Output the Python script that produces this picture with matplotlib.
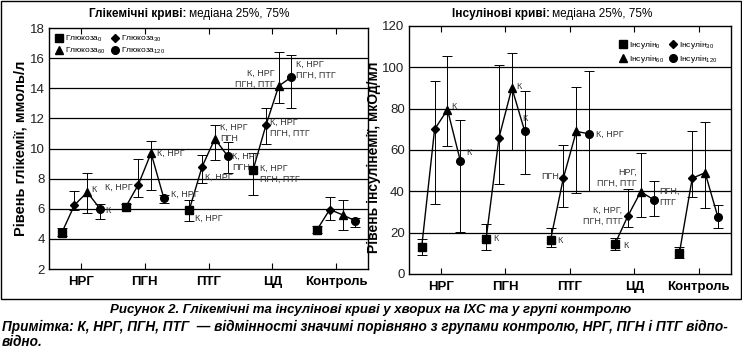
import numpy as np
import matplotlib.pyplot as plt
from matplotlib.lines import Line2D
from matplotlib.patches import Rectangle

plt.rcParams['font.family'] = ['Liberation Sans', 'DejaVu Sans']
plt.rcParams['mathtext.fontset'] = 'custom'
plt.rcParams['mathtext.rm'] = 'Liberation Sans'

groups = ["НРГ", "ПГН", "ПТГ", "ЦД", "Контроль"]
offsets = [0.2, 0.4, 0.6, 0.8]
markers = ["s", "D", "^", "o"]
msizes = [5.5, 4.5, 5.5, 5.5]

# glucose: rows = groups, cols = 0, 30, 60, 120 min
glu_med = [[4.4, 6.25, 7.1, 6.0],
           [6.1, 7.6, 9.7, 6.7],
           [5.95, 8.8, 10.65, 9.5],
           [8.6, 11.55, 14.15, 14.75],
           [4.6, 5.95, 5.6, 5.2]]
glu_lo = [[4.2, 5.9, 5.7, 5.3],
          [6.0, 6.75, 7.25, 6.4],
          [5.2, 7.7, 9.25, 8.35],
          [6.9, 10.3, 13.05, 12.7],
          [4.4, 5.25, 4.6, 4.8]]
glu_hi = [[4.7, 7.15, 8.35, 6.35],
          [6.3, 9.3, 10.5, 6.9],
          [6.55, 9.6, 11.55, 10.45],
          [9.7, 12.7, 16.4, 16.2],
          [4.85, 6.75, 6.55, 5.4]]

# insulin
ins_med = [[13.2, 70.0, 79.5, 54.7],
           [17.1, 66.0, 90.0, 69.0],
           [16.4, 46.5, 69.0, 67.8],
           [14.5, 28.0, 39.8, 36.0],
           [10.0, 46.3, 49.0, 27.4]]
ins_lo = [[9.0, 34.0, 62.0, 20.5],
          [11.6, 43.4, 60.0, 48.4],
          [12.9, 32.3, 39.4, 40.2],
          [11.6, 22.9, 27.4, 28.1],
          [7.9, 37.1, 31.8, 22.1]]
ins_hi = [[16.8, 93.5, 105.7, 74.4],
          [24.2, 101.0, 107.0, 88.5],
          [22.4, 62.4, 90.3, 98.0],
          [17.3, 41.0, 58.7, 45.1],
          [13.2, 69.0, 73.7, 33.4]]

glu_names = ["Глюкоза$_0$", "Глюкоза$_{30}$", "Глюкоза$_{60}$", "Глюкоза$_{120}$"]
ins_names = ["Інсулін$_0$", "Інсулін$_{30}$", "Інсулін$_{60}$", "Інсулін$_{120}$"]

# (group, point, text, dx, dy, ha, va)
glu_notes = [(0, 2, "К", 3, 2, "left", "center"),
             (0, 3, "К", 4, -1, "left", "center"),
             (1, 1, "К, НРГ", -4, -2, "right", "center"),
             (1, 2, "К, НРГ", 4, 0, "left", "center"),
             (1, 3, "К, НРГ", 5, 3, "left", "center"),
             (2, 0, "К, НРГ", 4, -6, "left", "center"),
             (2, 1, "К, НРГ", 2, -8, "left", "center"),
             (2, 2, "К, НРГ\nПГН", 4, -3, "left", "bottom"),
             (2, 3, "К, НРГ\nПГН", 3, -4, "left", "center"),
             (3, 0, "К, НРГ\nПГН, ПТГ", 5, -3, "left", "center"),
             (3, 1, "К, НРГ\nПГН, ПТГ", 3, -2, "left", "center"),
             (3, 2, "К, НРГ\nПГН, ПТГ", -3, 5, "right", "center"),
             (3, 3, "К, НРГ\nПГН, ПТГ", 3, 5, "left", "center")]
ins_notes = [(0, 2, "К", 3, 2, "left", "center"),
             (0, 3, "К", 4, 6, "left", "center"),
             (1, 0, "К", 5, 0, "left", "center"),
             (1, 2, "К", 3, 1, "left", "center"),
             (1, 3, "К", 0, 6, "center", "bottom"),
             (2, 0, "К", 5, 0, "left", "center"),
             (2, 1, "ПГН", -3, 1, "right", "center"),
             (2, 3, "К, НРГ", 5, 0, "left", "center"),
             (3, 0, "К", 6, -1, "left", "center"),
             (3, 1, "К, НРГ,\nПГН, ПТГ", -4, 0, "right", "center"),
             (3, 2, "НРГ,\nПГН, ПТГ", -3, 10, "right", "center"),
             (3, 3, "ПГН,\nПТГ", 4, 2, "left", "center")]

fig = plt.figure(figsize=(7.42, 3.51), dpi=100)
fig.patches.append(Rectangle((0.0015, 0.148), 0.997, 0.849, transform=fig.transFigure,
                             fill=False, edgecolor="black", linewidth=1.0))

ax1 = fig.add_axes([0.066, 0.2336, 0.430, 0.6864])
ax2 = fig.add_axes([0.551, 0.2194, 0.434, 0.7066])


def draw(ax, med, lo, hi, notes, ylim, yticks):
    for g in range(len(groups)):
        xs = [g + o for o in offsets]
        ax.plot(xs, med[g], color="black", lw=1.0, zorder=3)
        for k in range(4):
            ax.errorbar(xs[k], med[g][k],
                        yerr=[[med[g][k] - lo[g][k]], [hi[g][k] - med[g][k]]],
                        fmt=markers[k], ms=msizes[k], color="black", ecolor="black",
                        elinewidth=0.7, capsize=3.5, capthick=0.7, zorder=4)
    for g, k, t, dx, dy, ha, va in notes:
        ax.annotate(t, (g + offsets[k], med[g][k]), xytext=(dx, dy),
                    textcoords="offset points", ha=ha, va=va, fontsize=6.5,
                    color="#333333", linespacing=1.25, zorder=5)
    ax.set_xlim(0, 5)
    ax.set_ylim(*ylim)
    ax.set_yticks(yticks)
    for y in yticks[1:-1]:
        ax.axhline(y, color="black", lw=0.9, zorder=1)
    ax.set_xticks(np.arange(5) + 0.5)
    ax.set_xticklabels(groups, fontweight="bold", fontsize=9.5)
    ax.tick_params(axis="x", direction="in", length=4, top=True, width=0.8, pad=5)
    ax.tick_params(axis="y", length=0, labelsize=9.5, pad=3, labelcolor="#222222")
    for s in ax.spines.values():
        s.set_linewidth(1.0)
    handles = [Line2D([], [], marker=m, ls="none", color="black", ms=ms)
               for m, ms in zip(markers, msizes)]
    return handles


h1 = draw(ax1, glu_med, glu_lo, glu_hi, glu_notes, (2, 18), list(range(2, 19, 2)))
h2 = draw(ax2, ins_med, ins_lo, ins_hi, ins_notes, (0, 120), list(range(0, 121, 20)))

ax1.legend([h1[0], h1[2], h1[1], h1[3]], [glu_names[0], glu_names[2], glu_names[1], glu_names[3]],
           ncol=2, loc="upper left", frameon=False, fontsize=6, handletextpad=0.2,
           columnspacing=0.6, labelspacing=0.15, borderaxespad=0.3, handlelength=1.0)
ax2.legend([h2[0], h2[2], h2[1], h2[3]], [ins_names[0], ins_names[2], ins_names[1], ins_names[3]],
           ncol=2, loc="upper right", frameon=False, fontsize=6, handletextpad=0.2,
           columnspacing=0.6, labelspacing=0.15, borderaxespad=1.2, handlelength=1.0)

ax1.set_ylabel("Рівень глікемії, ммоль/л", fontweight="bold", fontsize=10.5)
ax1.yaxis.set_label_coords(-0.068, 0.5)
ax2.set_ylabel("Рівень інсулінемії, мкОд/мл", fontweight="bold", fontsize=10)
ax2.yaxis.set_label_coords(-0.088, 0.47)

fig.text(0.252, 0.96, "Глікемічні криві:", ha="right", va="center", fontsize=8.5, fontweight="bold")
fig.text(0.255, 0.96, "медіана 25%, 75%", ha="left", va="center", fontsize=8.5)
fig.text(0.741, 0.96, "Інсулінові криві:", ha="right", va="center", fontsize=8.5, fontweight="bold")
fig.text(0.744, 0.96, "медіана 25%, 75%", ha="left", va="center", fontsize=8.5)

fig.text(0.5, 0.117, "Рисунок 2. Глікемічні та інсулінові криві у хворих на ІХС та у групі контролю",
         ha="center", va="center", fontsize=9.5, style="italic", fontweight="bold")
fig.text(0.003, 0.047, "Примітка: К, НРГ, ПГН, ПТГ  — відмінності значимі порівняно з групами контролю, НРГ, ПГН і ПТГ відпо-\nвідно.",
         ha="left", va="center", fontsize=9.8, style="italic", fontweight="bold",
         linespacing=1.1)

fig.savefig("out.png", dpi=100)
